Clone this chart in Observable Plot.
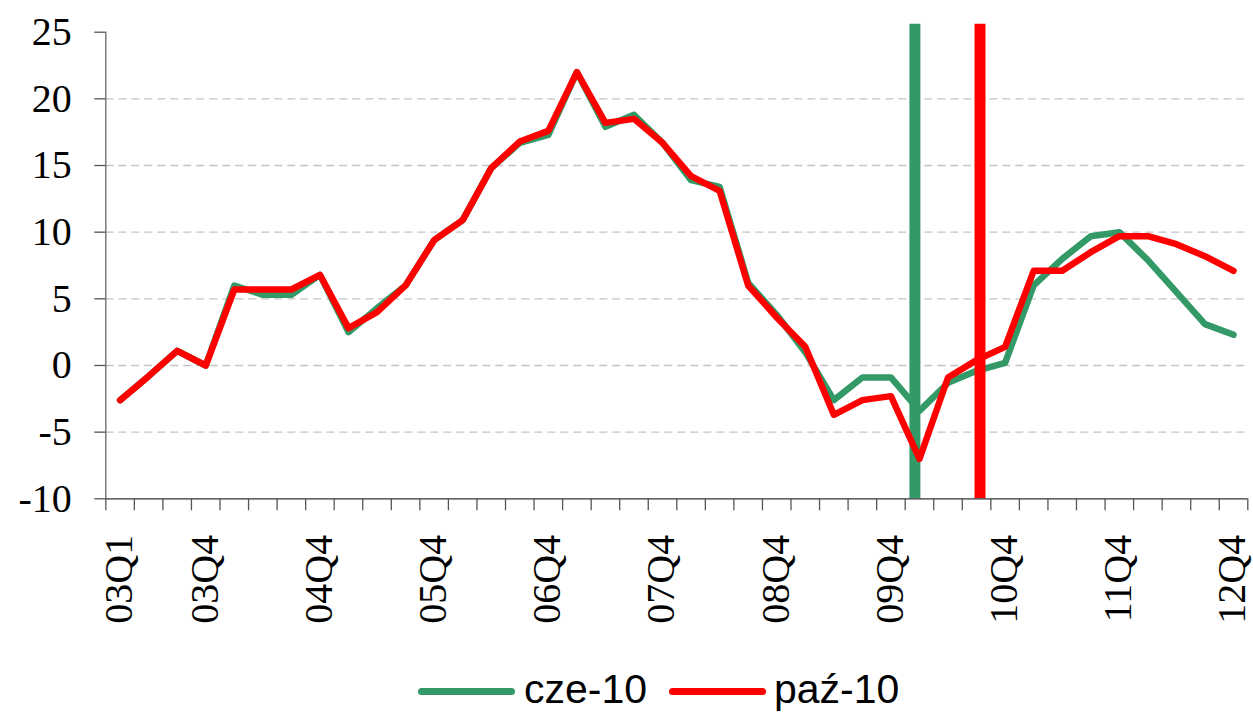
<!DOCTYPE html>
<html>
<head>
<meta charset="utf-8">
<script src="https://cdn.jsdelivr.net/npm/d3@7"></script>
<script src="https://cdn.jsdelivr.net/npm/@observablehq/plot@0.6"></script>
<style>
  html, body { margin: 0; padding: 0; background: #fff; }
  #wrap { width: 1253px; }
  #legend { position: relative; width: 1253px; height: 62px; font-family: "Liberation Sans", Arial, sans-serif; font-size: 41px; color: #000; }
  .sw { position: absolute; height: 7px; border-radius: 4px; top: 38px; }
  .lt { position: absolute; line-height: 41px; top: 19px; white-space: nowrap; }
</style>
</head>
<body>
<div id="wrap">
  <div id="chart"></div>
  <div id="legend">
    <div class="sw" style="left:418px;width:97px;background:#339966"></div>
    <div class="lt" style="left:524px">cze-10</div>
    <div class="sw" style="left:669px;width:97px;background:#ff0000"></div>
    <div class="lt" style="left:774px">paź-10</div>
  </div>
</div>
<script>
const quarters = [
  "03Q1","03Q2","03Q3","03Q4","04Q1","04Q2","04Q3","04Q4",
  "05Q1","05Q2","05Q3","05Q4","06Q1","06Q2","06Q3","06Q4",
  "07Q1","07Q2","07Q3","07Q4","08Q1","08Q2","08Q3","08Q4",
  "09Q1","09Q2","09Q3","09Q4","10Q1","10Q2","10Q3","10Q4",
  "11Q1","11Q2","11Q3","11Q4","12Q1","12Q2","12Q3","12Q4"
];
const czerwiec10 = [
  -2.6, -0.8, 1.1, 0.0, 6.0, 5.3, 5.3, 6.8,
  2.5, 4.3, 6.0, 9.4, 10.9, 14.8, 16.7, 17.3,
  22.0, 17.9, 18.8, 16.7, 13.9, 13.4, 6.2, 3.8,
  1.0, -2.6, -0.9, -0.9, -3.4, -1.3, -0.4, 0.2,
  6.0, 8.0, 9.7, 10.0, 7.9, 5.5, 3.1, 2.3
];
const pazdziernik10 = [
  -2.6, -0.8, 1.1, 0.0, 5.7, 5.7, 5.7, 6.8,
  2.8, 4.0, 6.0, 9.4, 10.9, 14.8, 16.8, 17.6,
  22.0, 18.2, 18.5, 16.7, 14.2, 13.1, 6.0, 3.6,
  1.4, -3.7, -2.6, -2.3, -7.0, -0.9, 0.4, 1.4,
  7.1, 7.1, 8.5, 9.7, 9.7, 9.1, 8.2, 7.1
];
const shownLabels = ["03Q1","03Q4","04Q4","05Q4","06Q4","07Q4","08Q4","09Q4","10Q4","11Q4","12Q4"];
const yTicks = [-10, -5, 0, 5, 10, 15, 20, 25];
const gridValues = [-5, 0, 5, 10, 15, 20];
// forecast-start markers (position in quarter index units)
const markerNames = ["cze-10", "paź-10"];
const markerPos = [27.84, 30.12];
const markerTop = 25.6;
const colors = {"cze-10": "#339966", "paź-10": "#ff0000"};

const green = czerwiec10.map((v, i) => ({i, v}));
const red = pazdziernik10.map((v, i) => ({i, v}));
const markers = markerNames.map((s, k) => ({s, x: markerPos[k]}));
const boundaries = d3.range(quarters.length + 1).map(k => k - 0.5);
const labelIdx = shownLabels.map(l => quarters.indexOf(l));

const serif = '"Times New Roman", "Liberation Serif", serif';

const chart = Plot.plot({
  width: 1253,
  height: 650,
  marginLeft: 105.3,
  marginRight: 5.7,
  marginTop: 31.7,
  marginBottom: 151.7,
  style: {fontFamily: serif, fontSize: "40px", background: "#fff", overflow: "visible"},
  x: {domain: [-0.5, quarters.length - 0.5]},
  y: {domain: [-10, 25]},
  marks: [
    Plot.ruleY(gridValues, {stroke: "#c4c4c4", strokeWidth: 1.3, strokeDasharray: "8,5"}),
    Plot.ruleX(markers.filter(d => d.s === "cze-10"), {x: "x", y1: -10, y2: markerTop, stroke: colors["cze-10"], strokeWidth: 11}),
    Plot.line(green, {x: "i", y: "v", stroke: colors["cze-10"], strokeWidth: 6.5, strokeLinejoin: "round", strokeLinecap: "round"}),
    Plot.line(red, {x: "i", y: "v", stroke: colors["paź-10"], strokeWidth: 6.5, strokeLinejoin: "round", strokeLinecap: "round"}),
    Plot.ruleX(markers.filter(d => d.s === "paź-10"), {x: "x", y1: -10, y2: markerTop, stroke: colors["paź-10"], strokeWidth: 11}),
    Plot.ruleX([-0.5], {stroke: "#666", strokeWidth: 1.3}),
    Plot.ruleY([-10], {stroke: "#333", strokeWidth: 1.3}),
    Plot.axisY({ticks: yTicks, tickSize: 11, tickPadding: 23, tickFormat: d => String(d), fontSize: 40, fontFamily: serif, stroke: "#555", strokeWidth: 1.3, label: null, color: "#000"}),
    Plot.axisX({ticks: boundaries, tickSize: 12, tickFormat: () => "", stroke: "#555", strokeWidth: 1.3, label: null}),
    Plot.text(labelIdx, {x: d => d, text: d => quarters[d], frameAnchor: "bottom", rotate: -90, textAnchor: "end", lineAnchor: "middle", dy: 36, dx: -1, fontSize: 40, fontFamily: serif, fill: "#000"})
  ]
});
document.getElementById("chart").appendChild(chart);
</script>
</body>
</html>
